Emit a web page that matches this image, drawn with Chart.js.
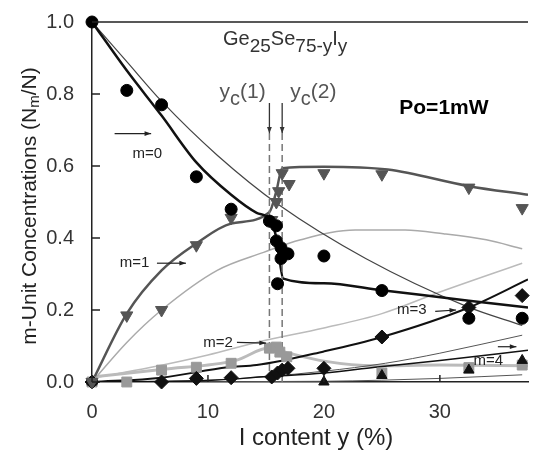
<!DOCTYPE html>
<html lang="en">
<head>
    <meta charset="UTF-8">
    <title>m-Unit Concentrations</title>
    <script src="https://cdn.jsdelivr.net/npm/chart.js"></script>
    <style>
        body { margin: 0; background: #fff; }
        #wrap { width: 536px; height: 459px; position: relative; }
    </style>
</head>
<body>
<div id="wrap"><canvas id="unitChart"></canvas></div>
<script>
    // tick labels
    const xTicks = [0, 10, 20, 30];
    const yTicks = [0, 0.2, 0.4, 0.6, 0.8, 1.0];

    // critical compositions yc(1), yc(2)
    const ycX = [15.3, 16.4];

    // measured points
    const m0X = [0, 3, 6, 9, 12, 15.3, 15.9, 15.9, 16.3, 16.9, 16.3, 16.0, 20, 25, 32.5, 37.1];
    const m0Y = [1.0, 0.81, 0.77, 0.57, 0.48, 0.447, 0.434, 0.392, 0.373, 0.356, 0.343, 0.273, 0.35, 0.254, 0.177, 0.177];

    const m1X = [0, 3, 6, 9, 12, 15.5, 15.9, 16.1, 16.4, 17.0, 20, 25, 32.5, 37.1];
    const m1Y = [0, 0.185, 0.2, 0.38, 0.456, 0.45, 0.50, 0.53, 0.58, 0.55, 0.58, 0.577, 0.54, 0.483];

    const m2X = [0, 3, 6, 9, 12, 15.3, 15.9, 16.2, 16.8, 25, 32.5, 37.1];
    const m2Y = [0, 0, 0.033, 0.041, 0.052, 0.094, 0.097, 0.083, 0.07, 0.025, 0.04, 0.047];

    const m3X = [0, 6, 9, 12, 15.5, 16.0, 16.4, 16.9, 20, 25, 32.5, 37.1];
    const m3Y = [0, 0, 0.01, 0.012, 0.014, 0.025, 0.033, 0.038, 0.038, 0.125, 0.207, 0.24];

    const m4X = [0, 20, 25, 32.5, 37.1];
    const m4Y = [0, 0, 0.018, 0.033, 0.06];

    // fitted curves (thick)
    const m0FitX = [0, 3, 6, 9, 12, 14.2, 15.4, 15.9, 16.5, 20, 25, 32.5, 37.6];
    const m0FitY = [1.0, 0.865, 0.74, 0.61, 0.52, 0.47, 0.45, 0.40, 0.287, 0.274, 0.255, 0.226, 0.207];

    const m1FitX = [0, 3, 6, 9, 12, 15.3, 15.9, 16.4, 20, 25.5, 32.5, 37.6];
    const m1FitY = [0, 0.19, 0.31, 0.385, 0.44, 0.472, 0.53, 0.594, 0.598, 0.59, 0.544, 0.52];

    const m2FitX = [0, 6, 12.4, 15.3, 17, 20, 24.4, 30, 37.6];
    const m2FitY = [0.014, 0.035, 0.06, 0.095, 0.08, 0.058, 0.045, 0.047, 0.045];

    const m3FitX = [0, 6, 11.7, 14.2, 20, 25, 32.5, 37.6];
    const m3FitY = [0, 0.012, 0.041, 0.047, 0.085, 0.125, 0.207, 0.285];

    const m4FitX = [0, 10, 15.1, 20, 24.4, 30, 37.6];
    const m4FitY = [0, 0.004, 0.015, 0.025, 0.041, 0.06, 0.088];

    // model curves (thin)
    const m0ModX = [0, 3, 6, 10.8, 16.2, 23.6, 32.3, 37.1];
    const m0ModY = [1.0, 0.89, 0.78, 0.63, 0.49, 0.343, 0.21, 0.157];

    const m1ModX = [0, 3, 6, 10.8, 14.8, 18, 22.7, 27, 30.3, 34, 37.1];
    const m1ModY = [0, 0.11, 0.2, 0.31, 0.36, 0.395, 0.422, 0.422, 0.412, 0.395, 0.37];

    const m2ModX = [0, 5, 10, 14.2, 20, 25, 30, 37.1];
    const m2ModY = [0.01, 0.04, 0.075, 0.11, 0.15, 0.19, 0.25, 0.33];

    const m3ModX = [0, 10, 15, 20, 25.3, 30, 37.1];
    const m3ModY = [0, 0.005, 0.015, 0.03, 0.052, 0.08, 0.13];

    const m4ModX = [0, 20, 25, 30, 37.1];
    const m4ModY = [0, 0.002, 0.005, 0.01, 0.02];

    const pts = (xs, ys) => xs.map((v, i) => ({x: v, y: ys[i]}));

    function scatterSet(xs, ys, style, color, radius, rotation) {
        return {
            type: 'scatter', data: pts(xs, ys), showLine: false, clip: false,
            pointStyle: style, pointRadius: radius, pointRotation: rotation || 0,
            pointBackgroundColor: color, pointBorderColor: color, pointBorderWidth: 1
        };
    }

    function curveSet(xs, ys, color, width) {
        return {
            type: 'line', data: pts(xs, ys), borderColor: color, borderWidth: width,
            pointRadius: 0, cubicInterpolationMode: 'monotone', fill: false
        };
    }

    const dashSets = ycX.map(v => ({
        type: 'line', data: [{x: v, y: 0}, {x: v, y: 0.69}], borderColor: '#777',
        borderWidth: 1.5, borderDash: [7, 4], pointRadius: 0
    }));

    const FONT = '"Liberation Sans", Arial, sans-serif';

    function drawParts(ctx, parts, x, y, size) {
        // parts: [text, isSub]
        let cx = x;
        parts.forEach(([t, sub]) => {
            ctx.font = (sub ? size - 1 : size) + 'px ' + FONT;
            ctx.fillText(t, cx, sub ? y + 7 : y);
            cx += ctx.measureText(t).width;
        });
        return cx - x;
    }

    function arrow(ctx, x1, y1, x2, y2) {
        const a = Math.atan2(y2 - y1, x2 - x1);
        ctx.beginPath();
        ctx.moveTo(x1, y1); ctx.lineTo(x2, y2); ctx.stroke();
        ctx.beginPath();
        ctx.moveTo(x2, y2);
        ctx.lineTo(x2 - 7 * Math.cos(a - 0.35), y2 - 7 * Math.sin(a - 0.35));
        ctx.lineTo(x2 - 7 * Math.cos(a + 0.35), y2 - 7 * Math.sin(a + 0.35));
        ctx.closePath(); ctx.fill();
    }

    const extras = {
        id: 'extras',
        afterDraw(chart) {
            const {ctx, chartArea: ca, scales: {x, y}} = chart;
            const X = v => x.getPixelForValue(v), Y = v => y.getPixelForValue(v);
            ctx.save();
            ctx.strokeStyle = '#222';
            ctx.lineWidth = 1.5;
            ctx.beginPath();
            ctx.moveTo(ca.left, ca.top); ctx.lineTo(ca.right, ca.top);
            xTicks.forEach(v => { ctx.moveTo(X(v), ca.bottom); ctx.lineTo(X(v), ca.bottom - 7); });
            yTicks.forEach(v => { ctx.moveTo(ca.left, Y(v)); ctx.lineTo(ca.left + 8, Y(v)); });
            ctx.stroke();

            // title formula
            ctx.fillStyle = '#333';
            ctx.textBaseline = 'alphabetic';
            ctx.textAlign = 'left';
            drawParts(ctx, [['Ge', 0], ['25', 1], ['Se', 0], ['75-y', 1], ['I', 0], ['y', 1]], X(11.3), Y(0.936), 20);

            // yc labels and arrows
            ctx.fillStyle = '#555';
            drawParts(ctx, [['y', 0], ['c', 1], ['(1)', 0]], X(11.0), Y(0.79), 21);
            drawParts(ctx, [['y', 0], ['c', 1], ['(2)', 0]], X(17.1), Y(0.79), 21);
            ctx.strokeStyle = '#333'; ctx.fillStyle = '#333'; ctx.lineWidth = 1.3;
            ycX.forEach(v => arrow(ctx, X(v), Y(0.775), X(v), Y(0.69)));

            ctx.fillStyle = '#000';
            ctx.font = 'bold 21px ' + FONT;
            ctx.textBaseline = 'middle';
            ctx.fillText('Po=1mW', X(26.5), Y(0.76));

            // m labels
            ctx.font = '15px ' + FONT;
            ctx.fillStyle = '#222'; ctx.strokeStyle = '#222'; ctx.lineWidth = 1.2;
            ctx.fillText('m=0', X(3.5), Y(0.635));
            arrow(ctx, X(1.95), Y(0.69), X(5.1), Y(0.69));
            ctx.fillText('m=1', X(2.4), Y(0.33));
            arrow(ctx, X(5.6), Y(0.33), X(8.1), Y(0.33));
            ctx.fillText('m=2', X(9.6), Y(0.11));
            arrow(ctx, X(12.5), Y(0.11), X(15.0), Y(0.108));
            ctx.fillText('m=3', X(26.3), Y(0.2));
            arrow(ctx, X(29.6), Y(0.196), X(31.4), Y(0.2));
            ctx.fillText('m=4', X(32.9), Y(0.06));
            arrow(ctx, X(35.0), Y(0.098), X(36.6), Y(0.098));

            // axis titles
            ctx.fillStyle = '#222';
            ctx.font = '24px ' + FONT;
            ctx.textAlign = 'center';
            ctx.textBaseline = 'middle';
            ctx.fillText('I content y (%)', 316, 438);

            ctx.translate(30, 206);
            ctx.rotate(-Math.PI / 2);
            ctx.textAlign = 'left';
            ctx.textBaseline = 'middle';
            const parts = [['m-Unit Concentrations (N', 0], ['m', 1], ['/N)', 0]];
            let w = 0;
            parts.forEach(([t, sub]) => { ctx.font = (sub ? 15 : 21) + 'px ' + FONT; w += ctx.measureText(t).width; });
            let cx = -w / 2;
            parts.forEach(([t, sub]) => {
                ctx.font = (sub ? 15 : 21) + 'px ' + FONT;
                ctx.fillText(t, cx, sub ? 5 : 0);
                cx += ctx.measureText(t).width;
            });
            ctx.restore();
        }
    };

    const ctx = document.getElementById('unitChart').getContext('2d');
    const unitChart = new Chart(ctx, {
        type: 'scatter',
        data: {
            datasets: [
                scatterSet(m0X, m0Y, 'circle', '#000', 6),
                scatterSet(m1X, m1Y, 'triangle', '#555', 7, 180),
                scatterSet(m3X, m3Y, 'rectRot', '#111', 7),
                scatterSet(m4X, m4Y, 'triangle', '#111', 6),
                scatterSet(m2X, m2Y, 'rect', '#999', 7),
                ...dashSets,
                curveSet(m0FitX, m0FitY, '#111', 2.5),
                curveSet(m1FitX, m1FitY, '#555', 2.5),
                curveSet(m3FitX, m3FitY, '#111', 2),
                curveSet(m4FitX, m4FitY, '#111', 1.5),
                curveSet(m0ModX, m0ModY, '#444', 1.2),
                curveSet(m3ModX, m3ModY, '#555', 1),
                curveSet(m4ModX, m4ModY, '#555', 1),
                curveSet(m1ModX, m1ModY, '#aaa', 1.5),
                curveSet(m2ModX, m2ModY, '#bbb', 1.5),
                curveSet(m2FitX, m2FitY, '#bbb', 3)
            ]
        },
        options: {
            responsive: true,
            maintainAspectRatio: false,
            animation: false,
            layout: { padding: { top: 20, right: 0, left: 0, bottom: 0 } },
            plugins: { legend: { display: false }, tooltip: { enabled: false } },
            scales: {
                x: {
                    type: 'linear', min: 0, max: 37.6,
                    afterBuildTicks: s => { s.ticks = xTicks.map(v => ({value: v})); },
                    afterFit: s => { s.height = 77; },
                    grid: { display: false },
                    border: { display: true, color: '#222', width: 1.5 },
                    ticks: { color: '#333', padding: 10, font: { size: 20, family: FONT } }
                },
                y: {
                    type: 'linear', min: 0, max: 1.0,
                    afterBuildTicks: s => { s.ticks = yTicks.map(v => ({value: v})); },
                    afterFit: s => { s.width = 92; },
                    grid: { display: false },
                    border: { display: true, color: '#222', width: 1.5 },
                    ticks: { color: '#333', padding: 10, font: { size: 20, family: FONT },
                        callback: v => v.toFixed(1) }
                }
            }
        },
        plugins: [extras]
    });
</script>
</body>
</html>
